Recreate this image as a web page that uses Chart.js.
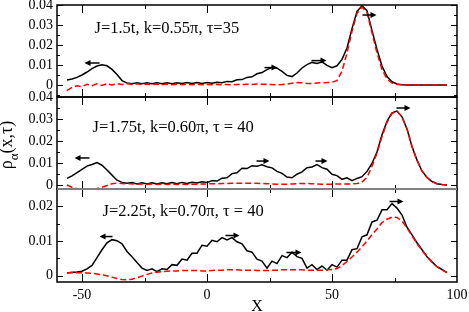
<!DOCTYPE html>
<html>
<head>
<meta charset="utf-8">
<script src="https://cdn.jsdelivr.net/npm/chart.js@4.4.1/dist/chart.umd.min.js"></script>
<style>
  html, body { margin: 0; padding: 0; background: #fff; }
  #wrap { width: 469px; height: 312px; position: relative; }
</style>
</head>
<body>
<div id="wrap"><canvas id="chart" width="469" height="312"></canvas></div>
<script>
// positions along the chain (shared by all curves)
const xs = [-56, -54, -52, -50, -48, -46, -44, -42, -40, -38, -36, -34, -32, -30, -28, -26, -24, -22, -20, -18,
            -16, -14, -12, -10, -8, -6, -4, -2, 0, 2, 4, 6, 8, 10, 12, 14, 16, 18, 20, 22,
            24, 26, 28, 30, 32, 34, 36, 38, 40, 42, 44, 46, 48, 50, 52, 54, 56, 58, 60, 62,
            64, 66, 68, 70, 72, 74, 76, 78, 80, 82, 84, 86, 88, 90, 92, 94, 96];

// top panel: J=1.5t
const topSolid = [0.0025, 0.003, 0.0038, 0.005, 0.0065, 0.0082, 0.0095, 0.0101, 0.0096, 0.0078, 0.0052, 0.0022, 0.001, 0.0006, 0.0011, 0.0006, 0.0011, 0.0006, 0.0011, 0.0006,
                  0.0011, 0.0006, 0.0011, 0.0007, 0.0012, 0.0007, 0.0012, 0.0007, 0.0012, 0.0009, 0.0014, 0.0011, 0.0018, 0.0016, 0.0026, 0.0027, 0.0038, 0.0041, 0.0056, 0.0062,
                  0.0077, 0.0088, 0.0084, 0.0068, 0.0048, 0.0042, 0.006, 0.0085, 0.0102, 0.0113, 0.0108, 0.0116, 0.0098, 0.0086, 0.0096, 0.0128, 0.0185, 0.0282, 0.0368, 0.0396,
                  0.0372, 0.0272, 0.0178, 0.0095, 0.0042, 0.0016, 0.0005, 0.0001, 0, 0, 0, 0, 0, 0, 0, 0, 0];
const topDashed = [-0.0028, -0.0012, -0.0004, -0.0008, 0.0004, -0.0004, 0.0006, -0.0002, 0.0006, 0, 0.0007, 0.0002, 0.0007, 0.0002, 0.0006, 0.0002, 0.0005, 0.0002, 0.0005, 0.0001,
                   0.0005, 0.0001, 0.0004, 0.0001, 0.0004, 0.0001, 0.0004, 0.0001, 0.0003, 0.0001, 0.0003, 0.0001, 0.0003, 0.0001, 0.0003, 0.0002, 0.0004, 0.0003, 0.0005, 0.0004,
                   0.0004, 0.0002, 0.0001, 0.0002, 0.0005, 0.0009, 0.0012, 0.0011, 0.0008, 0.0008, 0.001, 0.0011, 0.0012, 0.0014, 0.0022, 0.0068, 0.016, 0.0268, 0.0358, 0.039,
                   0.0362, 0.0262, 0.016, 0.0078, 0.003, 0.001, 0.0003, 0.0001, 0, 0, 0, 0, 0, 0, 0, 0, 0];

// middle panel: J=1.75t
const midSolid = [0.003, 0.0042, 0.0056, 0.0071, 0.0086, 0.0093, 0.0102, 0.009, 0.0068, 0.0045, 0.0022, 0.0012, 0.0008, 0.0011, 0.0005, 0.001, 0.0005, 0.001, 0.0005, 0.001,
                  0.0006, 0.0011, 0.0006, 0.0012, 0.0007, 0.0013, 0.0009, 0.0015, 0.0012, 0.002, 0.0018, 0.0031, 0.0033, 0.0052, 0.0056, 0.0076, 0.0075, 0.0088, 0.0085, 0.0092,
                  0.0083, 0.0078, 0.0062, 0.0053, 0.0036, 0.0033, 0.0049, 0.006, 0.0079, 0.0082, 0.0093, 0.0079, 0.0072, 0.0049, 0.0043, 0.0026, 0.0033, 0.002, 0.003, 0.0038,
                  0.0062, 0.0098, 0.015, 0.0228, 0.029, 0.0328, 0.0336, 0.031, 0.0255, 0.0175, 0.0113, 0.0064, 0.0034, 0.0016, 0.0006, 0.0002, 0];
const midDashed = [0, -0.001, -0.0016, -0.0018, -0.0019, -0.0018, -0.0016, -0.001, -0.0002, 0.0006, 0.0009, 0.0007, 0.0005, 0.0006, 0.0004, 0.0005, 0.0003, 0.0005, 0.0003, 0.0004,
                   0.0003, 0.0004, 0.0003, 0.0004, 0.0003, 0.0004, 0.0004, 0.0005, 0.0005, 0.0006, 0.0006, 0.0007, 0.0007, 0.0008, 0.0008, 0.0008, 0.0008, 0.0008, 0.0008, 0.0007,
                   0.0006, 0.0005, 0.0004, 0.0004, 0.0004, 0.0005, 0.0006, 0.0007, 0.0007, 0.0006, 0.0005, 0.0004, 0.0004, 0.0004, 0.0005, 0.0005, 0.0005, 0.0005, 0.0007, 0.0013,
                   0.0035, 0.0085, 0.0145, 0.022, 0.0285, 0.0325, 0.0336, 0.031, 0.0255, 0.0175, 0.0113, 0.0064, 0.0034, 0.0016, 0.0006, 0.0002, 0];

// bottom panel: J=2.25t
const botSolid = [0.0008, 0.001, 0.0011, 0.0013, 0.002, 0.003, 0.0052, 0.0075, 0.0095, 0.0104, 0.0101, 0.0092, 0.007, 0.0055, 0.0038, 0.0022, 0.0015, 0.002, 0.0012, 0.002,
                  0.0018, 0.0032, 0.003, 0.0048, 0.0045, 0.0065, 0.0065, 0.0088, 0.0085, 0.0102, 0.0098, 0.011, 0.0103, 0.011, 0.0098, 0.0092, 0.0072, 0.0068, 0.0048, 0.0042,
                  0.0022, 0.0042, 0.0035, 0.0058, 0.0052, 0.0068, 0.0055, 0.005, 0.0022, 0.0032, 0.0018, 0.0028, 0.0016, 0.0032, 0.0025, 0.0045, 0.0045, 0.0075, 0.0078, 0.0112,
                  0.0118, 0.0155, 0.016, 0.019, 0.019, 0.0208, 0.0195, 0.0175, 0.014, 0.0118, 0.0095, 0.0075, 0.0055, 0.004, 0.0026, 0.0018, 0.0009];
const botDashed = [0.0009, 0.0009, 0.0009, 0.0009, 0.0008, 0.0007, 0.0005, 0.0003, 0, -0.0004, -0.0008, -0.0011, -0.0012, -0.001, -0.0006, -0.0001, 0.0004, 0.0008, 0.001, 0.0012,
                   0.0013, 0.0014, 0.0014, 0.0015, 0.0015, 0.0015, 0.0015, 0.0014, 0.0014, 0.0015, 0.0016, 0.0016, 0.0017, 0.0017, 0.0017, 0.0016, 0.0016, 0.0016, 0.0015, 0.0015,
                   0.0015, 0.0016, 0.0016, 0.0017, 0.0017, 0.0017, 0.0017, 0.0017, 0.0016, 0.0016, 0.0016, 0.0016, 0.0017, 0.0018, 0.0021, 0.0029, 0.0041, 0.0054, 0.0068, 0.0083,
                   0.01, 0.0118, 0.0135, 0.0153, 0.0163, 0.0169, 0.0168, 0.0158, 0.0138, 0.0115, 0.0093, 0.0073, 0.0056, 0.004, 0.0026, 0.0017, 0.0009];

// tick values
const xTicks = [-50, 0, 50, 100];
const xMajor = [-50, 0, 50];
const xMinor = [-25, 25, 75];
const panelIds = ['yT', 'yM', 'yB'];
const yLabels = [[0, 0.01, 0.02, 0.03, 0.04], [0, 0.01, 0.02, 0.03, 0.04], [0, 0.01, 0.02]];
const yMinor = [[-0.005, 0.005, 0.015, 0.025, 0.035], [0.005, 0.015, 0.025, 0.035], [0.005, 0.015]];

// panel captions and arrows (data coordinates)
const captions = [
  { panel: 'yT', x: -45, y: 0.026, text: 'J=1.5t, k=0.55\u03c0, \u03c4=35' },
  { panel: 'yM', x: -45.8, y: 0.0241, text: 'J=1.75t, k=0.60\u03c0, \u03c4 = 40' },
  { panel: 'yB', x: -41.8, y: 0.0171, text: 'J=2.25t, k=0.70\u03c0, \u03c4 = 40' }
];
const arrows = [
  { panel: 'yT', from: -43, to: -49, y: 0.011 },
  { panel: 'yT', from: 23, to: 28.2, y: 0.0087 },
  { panel: 'yT', from: 41.8, to: 47.8, y: 0.0122 },
  { panel: 'yT', from: 62.2, to: 67.8, y: 0.035 },
  { panel: 'yM', from: -47, to: -53, y: 0.0123 },
  { panel: 'yM', from: 19.8, to: 25, y: 0.0109 },
  { panel: 'yM', from: 43.4, to: 48.2, y: 0.0109 },
  { panel: 'yM', from: 75.8, to: 81.4, y: 0.035 },
  { panel: 'yB', from: -37.8, to: -43, y: 0.0113 },
  { panel: 'yB', from: 7.4, to: 13, y: 0.0116 },
  { panel: 'yB', from: 31.8, to: 37.8, y: 0.0067 },
  { panel: 'yB', from: 73, to: 78.6, y: 0.0214 }
];

const SERIF = '"Liberation Serif", "DejaVu Serif", serif';
Chart.defaults.font.family = SERIF;
Chart.defaults.color = '#000';

function pts(vals) {
  return xs.map((x, i) => ({ x: x, y: vals[i] }));
}

function dashed(vals, axis) {
  return { data: pts(vals), yAxisID: axis, borderColor: '#ff0000', borderWidth: 1.5, borderDash: [6, 3], pointRadius: 0, fill: false };
}
function solid(vals, axis) {
  return { data: pts(vals), yAxisID: axis, borderColor: '#000', borderWidth: 1.5, pointRadius: 0, fill: false };
}

function yAxis(k, min, max, weight) {
  return {
    type: 'linear', position: 'left', stack: 'panels', stackWeight: weight,
    min: min, max: max,
    grid: { display: false, drawTicks: false },
    border: { display: false },
    afterBuildTicks: s => { s.ticks = yLabels[k].map(v => ({ value: v })); },
    afterFit: s => { s.width = 57; s.paddingTop = 0; s.paddingBottom = 0; },
    ticks: {
      autoSkip: false, padding: 4, font: { size: 14 },
      callback: v => v === 0 ? '0' : v.toFixed(2)
    }
  };
}

// frames, inward ticks, arrows and captions
const decor = {
  id: 'decor',
  afterDatasetsDraw(chart) {
    const ctx = chart.ctx;
    const sx = chart.scales.x;
    const L = chart.chartArea.left, R = chart.chartArea.right;
    ctx.save();
    panelIds.forEach((id, k) => {
      const s = chart.scales[id];
      const T = s.top, B = s.bottom;
      ctx.strokeStyle = '#000';
      ctx.lineWidth = 1;
      ctx.beginPath();
      yLabels[k].forEach(v => {
        const y = Math.round(s.getPixelForValue(v)) + 0.5;
        ctx.moveTo(L, y); ctx.lineTo(L + 6, y);
        ctx.moveTo(R, y); ctx.lineTo(R - 6, y);
      });
      yMinor[k].forEach(v => {
        const y = Math.round(s.getPixelForValue(v)) + 0.5;
        ctx.moveTo(L, y); ctx.lineTo(L + 3, y);
        ctx.moveTo(R, y); ctx.lineTo(R - 3, y);
      });
      xMajor.forEach(v => {
        const x = Math.round(sx.getPixelForValue(v)) + 0.5;
        ctx.moveTo(x, T); ctx.lineTo(x, T + 8);
        ctx.moveTo(x, B); ctx.lineTo(x, B - 8);
      });
      xMinor.forEach(v => {
        const x = Math.round(sx.getPixelForValue(v)) + 0.5;
        ctx.moveTo(x, T); ctx.lineTo(x, T + 4);
        ctx.moveTo(x, B); ctx.lineTo(x, B - 4);
      });
      ctx.stroke();
      ctx.lineWidth = 1.5;
      ctx.strokeRect(L, T, R - L, B - T);
    });
    // boundary between middle and bottom panel is grey
    const yb = chart.scales.yB.top;
    ctx.strokeStyle = '#808080';
    ctx.lineWidth = 2;
    ctx.beginPath();
    ctx.moveTo(L, yb); ctx.lineTo(R, yb);
    ctx.stroke();

    // arrows
    ctx.strokeStyle = '#000';
    ctx.fillStyle = '#000';
    ctx.lineWidth = 1.5;
    arrows.forEach(a => {
      const s = chart.scales[a.panel];
      const x1 = sx.getPixelForValue(a.from), x2 = sx.getPixelForValue(a.to);
      const y = s.getPixelForValue(a.y);
      const dir = x2 > x1 ? 1 : -1;
      ctx.beginPath();
      ctx.moveTo(x1, y); ctx.lineTo(x2 - dir * 5, y);
      ctx.stroke();
      ctx.beginPath();
      ctx.moveTo(x2, y);
      ctx.lineTo(x2 - dir * 6, y - 3);
      ctx.lineTo(x2 - dir * 6, y + 3);
      ctx.closePath();
      ctx.fill();
    });

    // captions
    ctx.font = '16.5px ' + SERIF;
    ctx.textBaseline = 'alphabetic';
    ctx.textAlign = 'left';
    captions.forEach(c => {
      const s = chart.scales[c.panel];
      ctx.fillText(c.text, sx.getPixelForValue(c.x), s.getPixelForValue(c.y));
    });

    // axis titles
    ctx.font = '16px ' + SERIF;
    ctx.textAlign = 'center';
    ctx.fillText('X', (L + R) / 2, 311);

    ctx.translate(12, 145);
    ctx.rotate(-Math.PI / 2);
    ctx.textAlign = 'left';
    const big = '18px ' + SERIF, small = '13px ' + SERIF;
    ctx.font = big;
    const w1 = ctx.measureText('\u03c1').width;
    const w3 = ctx.measureText('(x,\u03c4)').width;
    ctx.font = small;
    const w2 = ctx.measureText('\u03b1').width;
    let p = -(w1 + w2 + w3) / 2;
    ctx.font = big;
    ctx.fillText('\u03c1', p, 0);
    p += w1;
    ctx.font = small;
    ctx.fillText('\u03b1', p, 6);
    p += w2;
    ctx.font = big;
    ctx.fillText('(x,\u03c4)', p, 0);
    ctx.restore();
  }
};

new Chart(document.getElementById('chart'), {
  type: 'line',
  data: {
    datasets: [
      dashed(topDashed, 'yT'), dashed(midDashed, 'yM'), dashed(botDashed, 'yB'),
      solid(topSolid, 'yT'), solid(midSolid, 'yM'), solid(botSolid, 'yB')
    ]
  },
  options: {
    responsive: false,
    animation: false,
    devicePixelRatio: 1,
    layout: { padding: { left: 0, right: 12, top: 5, bottom: 0 } },
    plugins: { legend: { display: false }, tooltip: { enabled: false } },
    scales: {
      x: {
        type: 'linear', min: -60, max: 100,
        grid: { display: false, drawTicks: false },
        border: { display: false },
        afterBuildTicks: s => { s.ticks = xTicks.map(v => ({ value: v })); },
        afterFit: s => { s.height = 30; s.paddingLeft = 0; s.paddingRight = 0; },
        ticks: { autoSkip: false, maxRotation: 0, padding: 5, font: { size: 14 } }
      },
      // stacked axes are laid out bottom-up in declaration order
      yB: yAxis(2, -0.0018, 0.025, 93),
      yM: yAxis(1, -0.0018, 0.04, 92),
      yT: yAxis(0, -0.006, 0.04, 92)
    }
  },
  plugins: [decor]
});
</script>
</body>
</html>
